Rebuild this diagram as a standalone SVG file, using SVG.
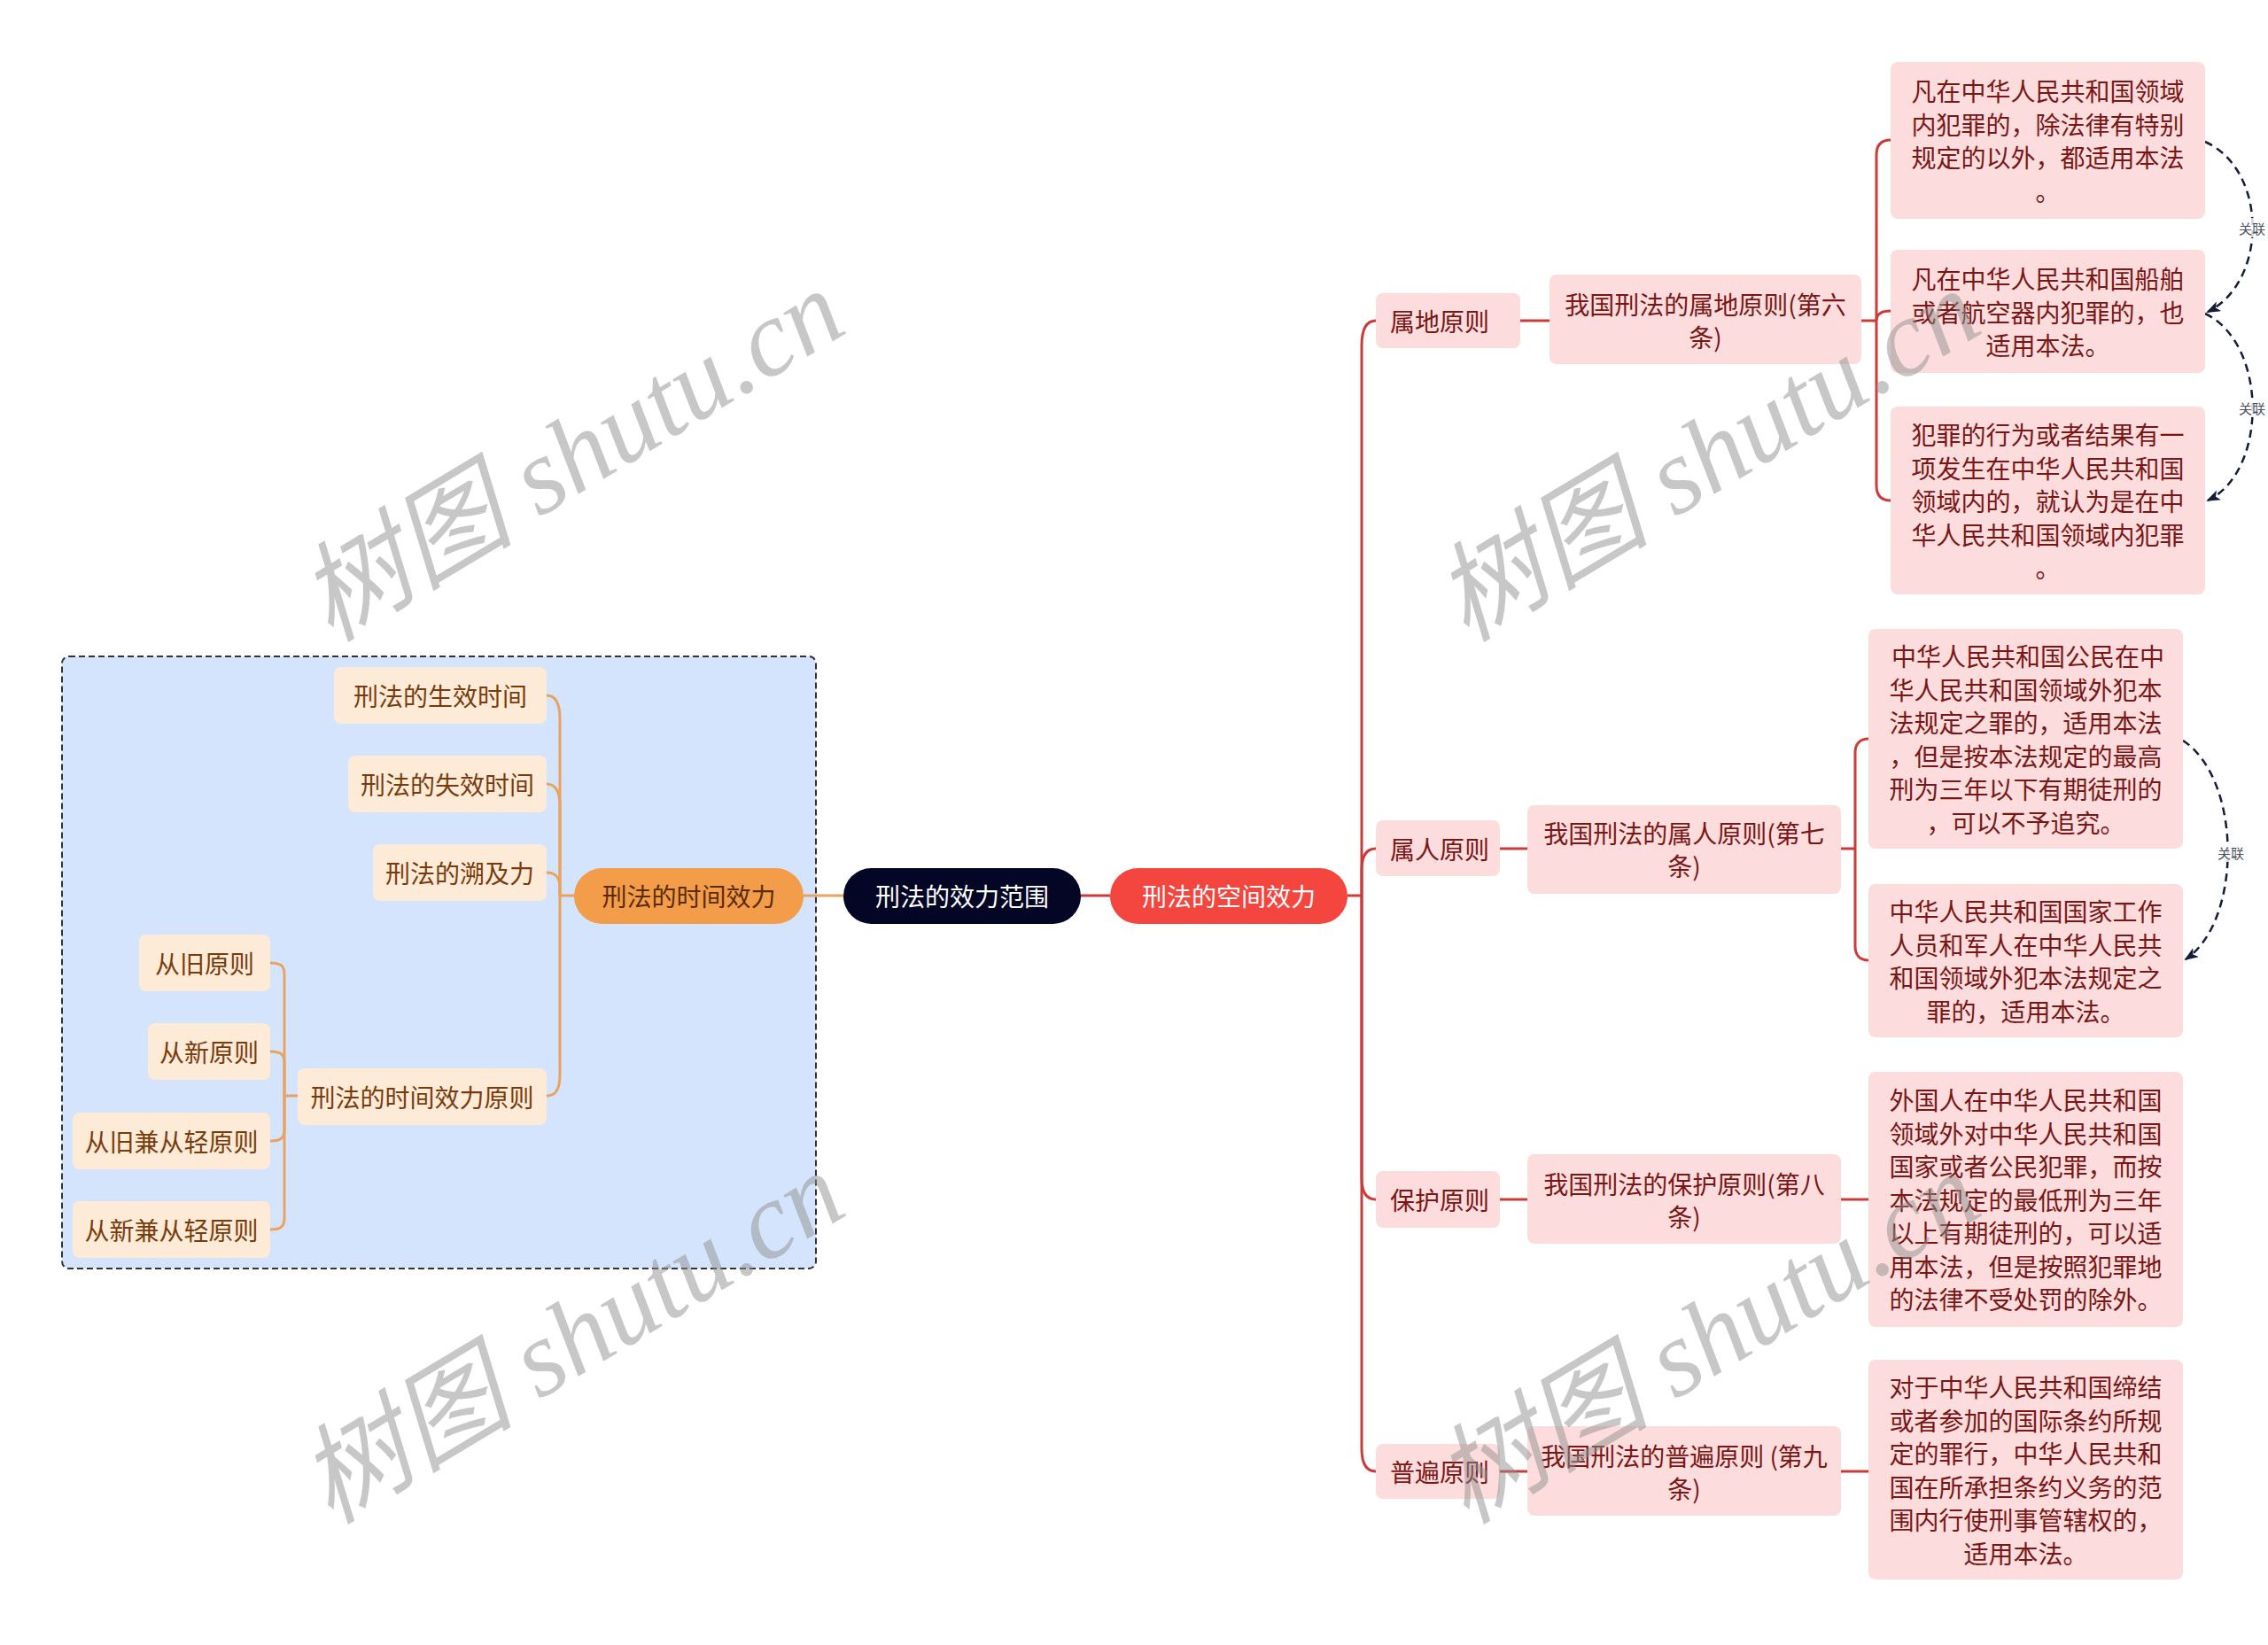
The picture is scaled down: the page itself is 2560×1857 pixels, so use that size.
<svg xmlns="http://www.w3.org/2000/svg" width="2560" height="1857" viewBox="0 0 2560 1857">
<style>
text { font-family: "Noto Sans CJK SC", "Noto Sans", sans-serif; font-size: 28px; text-anchor: middle; dominant-baseline: central; }
.lt { fill: #7a3b0c; }
.rt { fill: #7a1616; }
.wt { fill: #ffffff; }
.ln { fill: #fdebd8; }
.rn { fill: #fcdcdc; }
.oc { stroke: #e9a25f; stroke-width: 3; fill: none; }
.rc { stroke: #cc3b38; stroke-width: 3; fill: none; }
.rel { stroke: #141c38; stroke-width: 2.5; stroke-dasharray: 9 6; fill: none; marker-end: url(#arr); }
.rl { font-size: 15px; fill: #4a5060; }
.wm { font-family: "Liberation Serif", "Noto Sans CJK SC", serif; font-size: 122px; fill: #8f8f8f; fill-opacity: 0.5; font-style: italic; }
</style>
<defs>
<marker id="arr" viewBox="0 0 16 12" markerWidth="16" markerHeight="12" refX="14" refY="6" orient="auto" markerUnits="userSpaceOnUse">
<path d="M0,0 L16,6 L0,12 L4,6 z" fill="#141c38"/>
</marker>
</defs>
<rect width="2560" height="1857" fill="#ffffff"/>

<g id="time-frame">
<rect x="70" y="741" width="851" height="691" rx="8" fill="#d4e4fc" stroke="#333333" stroke-width="2" stroke-dasharray="7 4"/>
</g>

<g id="connectors">
<path class="oc" d="M907,1011 H952"/>
<path class="rc" d="M1220,1011 H1253"/>
<path class="oc" d="M648,1011 H632"/>
<path class="oc" d="M632,1011 V812 C632,795 628,785 617,785"/>
<path class="oc" d="M632,1011 V910 C632,894 628,885 617,885"/>
<path class="oc" d="M632,1011 V1003 C632,991 628,985 617,985"/>
<path class="oc" d="M632,1011 V1212 C632,1229 628,1237 617,1237"/>
<path class="oc" d="M336,1237 H321"/>
<path class="oc" d="M321,1237 V1100 C321,1091 318,1087 305,1087"/>
<path class="oc" d="M321,1237 V1200 C321,1191 318,1187 305,1187"/>
<path class="oc" d="M321,1237 V1275 C321,1284 318,1288 305,1288"/>
<path class="oc" d="M321,1237 V1375 C321,1384 318,1388 305,1388"/>
<path class="rc" d="M1521,1011 H1537"/>
<path class="rc" d="M1537,1011 V390 C1537,372 1542,362 1553,362"/>
<path class="rc" d="M1537,1011 V982 C1537,966 1542,958 1553,958"/>
<path class="rc" d="M1537,1011 V1330 C1537,1345 1542,1354 1553,1354"/>
<path class="rc" d="M1537,1011 V1635 C1537,1652 1542,1661 1553,1661"/>
<path class="rc" d="M1716,362 H1749"/>
<path class="rc" d="M2101,362 H2118"/>
<path class="rc" d="M2118,362 V175 C2118,164 2123,158 2134,158"/>
<path class="rc" d="M2118,362 C2118,355 2123,351 2134,351"/>
<path class="rc" d="M2118,362 V548 C2118,559 2123,565 2134,565"/>
<path class="rc" d="M1693,958 H1724"/>
<path class="rc" d="M2078,958 H2094"/>
<path class="rc" d="M2094,958 V850 C2094,840 2099,834 2109,834"/>
<path class="rc" d="M2094,958 V1068 C2094,1078 2099,1084 2109,1084"/>
<path class="rc" d="M1693,1354 H1724"/>
<path class="rc" d="M2078,1354 H2109"/>
<path class="rc" d="M1693,1661 H1724"/>
<path class="rc" d="M2078,1661 H2109"/>
<path class="rel" d="M2489,160 C2560,192 2560,318 2492,352"/>
<path class="rel" d="M2489,354 C2560,388 2560,532 2492,565"/>
<path class="rel" d="M2464,836 C2531,880 2531,1040 2467,1083"/>
<rect x="2524" y="246" width="36" height="22" fill="#ffffff" fill-opacity="0.8"/>
<text class="rl" x="2542" y="257">关联</text>
<rect x="2524" y="449" width="36" height="22" fill="#ffffff" fill-opacity="0.8"/>
<text class="rl" x="2542" y="460">关联</text>
<rect x="2500" y="951" width="36" height="22" fill="#ffffff" fill-opacity="0.8"/>
<text class="rl" x="2518" y="962">关联</text>
</g>

<g id="n-root">
<rect x="952" y="980" width="268" height="63" rx="31.5" fill="#030624"/>
<text class="wt" x="1086" y="1011">刑法的效力范围</text>
</g>
<g id="n-time">
<rect x="648" y="980" width="259" height="63" rx="31.5" fill="#f39c4a"/>
<text class="lt" x="777.5" y="1011" style="fill:#5a2c05">刑法的时间效力</text>
</g>
<g id="n-space">
<rect x="1253" y="980" width="268" height="63" rx="31.5" fill="#f5453f"/>
<text class="wt" x="1387" y="1011">刑法的空间效力</text>
</g>

<g id="n-t1"><rect class="ln" x="377" y="753" width="240" height="64" rx="8"/><text class="lt" x="497" y="785">刑法的生效时间</text></g>
<g id="n-t2"><rect class="ln" x="393" y="853" width="224" height="64" rx="8"/><text class="lt" x="505" y="885">刑法的失效时间</text></g>
<g id="n-t3"><rect class="ln" x="421" y="953" width="196" height="64" rx="8"/><text class="lt" x="519" y="985">刑法的溯及力</text></g>
<g id="n-t4"><rect class="ln" x="336" y="1206" width="281" height="64" rx="8"/><text class="lt" x="476.5" y="1238">刑法的时间效力原则</text></g>
<g id="n-t41"><rect class="ln" x="157" y="1055" width="148" height="64" rx="8"/><text class="lt" x="231" y="1087">从旧原则</text></g>
<g id="n-t42"><rect class="ln" x="167" y="1155" width="138" height="64" rx="8"/><text class="lt" x="236" y="1187">从新原则</text></g>
<g id="n-t43"><rect class="ln" x="82" y="1256" width="223" height="64" rx="8"/><text class="lt" x="193.5" y="1288">从旧兼从轻原则</text></g>
<g id="n-t44"><rect class="ln" x="82" y="1356" width="223" height="64" rx="8"/><text class="lt" x="193.5" y="1388">从新兼从轻原则</text></g>

<g id="n-s1"><rect class="rn" x="1553" y="331" width="163" height="62" rx="8"/><text class="rt" x="1625" y="362">属地原则</text></g>
<g id="n-s11"><rect class="rn" x="1749" y="310" width="352" height="101" rx="8"/>
<text class="rt" x="1925" y="343">我国刑法的属地原则(第六</text><text class="rt" x="1925" y="380">条)</text></g>
<g id="n-s111"><rect class="rn" x="2134" y="70" width="355" height="177" rx="8"/>
<text class="rt" x="2311.5" y="102">凡在中华人民共和国领域</text>
<text class="rt" x="2311.5" y="140">内犯罪的，除法律有特别</text>
<text class="rt" x="2311.5" y="177">规定的以外，都适用本法</text>
<text class="rt" x="2311.5" y="215">。</text></g>
<g id="n-s112"><rect class="rn" x="2134" y="282" width="355" height="139" rx="8"/>
<text class="rt" x="2311.5" y="314">凡在中华人民共和国船舶</text>
<text class="rt" x="2311.5" y="351.5">或者航空器内犯罪的，也</text>
<text class="rt" x="2311.5" y="389">适用本法。</text></g>
<g id="n-s113"><rect class="rn" x="2134" y="459" width="355" height="212" rx="8"/>
<text class="rt" x="2311.5" y="490">犯罪的行为或者结果有一</text>
<text class="rt" x="2311.5" y="527.5">项发生在中华人民共和国</text>
<text class="rt" x="2311.5" y="565">领域内的，就认为是在中</text>
<text class="rt" x="2311.5" y="602.5">华人民共和国领域内犯罪</text>
<text class="rt" x="2311.5" y="640">。</text></g>

<g id="n-s2"><rect class="rn" x="1553" y="926" width="140" height="63" rx="8"/><text class="rt" x="1625" y="958">属人原则</text></g>
<g id="n-s21"><rect class="rn" x="1724" y="909" width="354" height="100" rx="8"/>
<text class="rt" x="1901" y="940">我国刑法的属人原则(第七</text><text class="rt" x="1901" y="977">条)</text></g>
<g id="n-s211"><rect class="rn" x="2109" y="710" width="355" height="248" rx="8"/>
<text class="rt" x="2289" y="740">中华人民共和国公民在中</text>
<text class="rt" x="2286.5" y="777.5">华人民共和国领域外犯本</text>
<text class="rt" x="2286.5" y="815">法规定之罪的，适用本法</text>
<text class="rt" x="2286.5" y="852.5">，但是按本法规定的最高</text>
<text class="rt" x="2286.5" y="890">刑为三年以下有期徒刑的</text>
<text class="rt" x="2286.5" y="927.5">，可以不予追究。</text></g>
<g id="n-s212"><rect class="rn" x="2109" y="998" width="355" height="173" rx="8"/>
<text class="rt" x="2286.5" y="1028">中华人民共和国国家工作</text>
<text class="rt" x="2286.5" y="1066">人员和军人在中华人民共</text>
<text class="rt" x="2286.5" y="1103">和国领域外犯本法规定之</text>
<text class="rt" x="2286.5" y="1141">罪的，适用本法。</text></g>

<g id="n-s3"><rect class="rn" x="1553" y="1322" width="140" height="64" rx="8"/><text class="rt" x="1625" y="1354">保护原则</text></g>
<g id="n-s31"><rect class="rn" x="1724" y="1303" width="354" height="101" rx="8"/>
<text class="rt" x="1901" y="1336">我国刑法的保护原则(第八</text><text class="rt" x="1901" y="1373">条)</text></g>
<g id="n-s311"><rect class="rn" x="2109" y="1210" width="355" height="288" rx="8"/>
<text class="rt" x="2286.5" y="1241">外国人在中华人民共和国</text>
<text class="rt" x="2286.5" y="1278.5">领域外对中华人民共和国</text>
<text class="rt" x="2286.5" y="1316">国家或者公民犯罪，而按</text>
<text class="rt" x="2286.5" y="1353.5">本法规定的最低刑为三年</text>
<text class="rt" x="2286.5" y="1391">以上有期徒刑的，可以适</text>
<text class="rt" x="2286.5" y="1428.5">用本法，但是按照犯罪地</text>
<text class="rt" x="2286.5" y="1466">的法律不受处罚的除外。</text></g>

<g id="n-s4"><rect class="rn" x="1553" y="1630" width="140" height="62" rx="8"/><text class="rt" x="1625" y="1661">普遍原则</text></g>
<g id="n-s41"><rect class="rn" x="1724" y="1610" width="354" height="101" rx="8"/>
<text class="rt" x="1901" y="1643">我国刑法的普遍原则 (第九</text><text class="rt" x="1901" y="1680">条)</text></g>
<g id="n-s411"><rect class="rn" x="2109" y="1535" width="355" height="248" rx="8"/>
<text class="rt" x="2286.5" y="1565">对于中华人民共和国缔结</text>
<text class="rt" x="2286.5" y="1603">或者参加的国际条约所规</text>
<text class="rt" x="2286.5" y="1640">定的罪行，中华人民共和</text>
<text class="rt" x="2286.5" y="1678">国在所承担条约义务的范</text>
<text class="rt" x="2286.5" y="1715">围内行使刑事管辖权的，</text>
<text class="rt" x="2286.5" y="1753">适用本法。</text></g>

<g id="watermarks">
<text class="wm" x="645" y="514" transform="rotate(-31 645 514)">树图 shutu.cn</text>
<text class="wm" x="1927" y="514" transform="rotate(-31 1927 514)">树图 shutu.cn</text>
<text class="wm" x="645" y="1510" transform="rotate(-31 645 1510)">树图 shutu.cn</text>
<text class="wm" x="1927" y="1510" transform="rotate(-31 1927 1510)">树图 shutu.cn</text>
</g>
</svg>
